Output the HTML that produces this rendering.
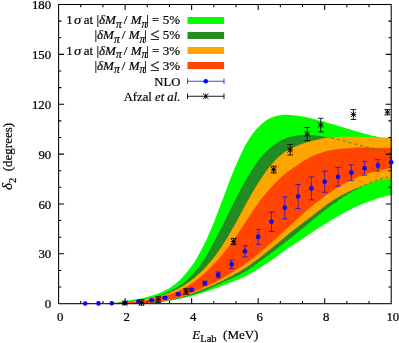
<!DOCTYPE html>
<html><head><meta charset="utf-8"><style>
html,body{margin:0;padding:0;background:#fff;overflow:hidden}
body{width:399px;height:343px;position:relative;overflow:hidden;font-family:"Liberation Serif",serif;}
.t{-webkit-text-stroke:0.2px #000;position:absolute;white-space:nowrap;font-family:"Liberation Serif",serif;font-size:13px;color:#000;line-height:1;}
.t i{font-style:italic}
.t sub{font-size:9.5px;vertical-align:baseline;position:relative;top:3px;line-height:0}
#w{position:absolute;left:0;top:0;width:399px;height:343px;will-change:transform;background:#fff;overflow:hidden}
.lg{right:219px;text-align:right}
.sg{display:inline-block;margin-left:1.5px;transform:translateX(0px) scaleX(1.12);transform-origin:left center}
.pi{font-size:11.5px !important;top:3.6px !important;margin-right:-1.1px}
.le{font-size:17px;line-height:0;position:relative;top:1px}
.ax sub{font-size:10.5px;top:3.6px}
.dl{font-size:15px;line-height:0}
</style></head><body>
<div id="w">
<svg width="399" height="343" viewBox="0 0 399 343" style="position:absolute;left:0;top:0">
<defs><clipPath id="c"><rect x="58.6" y="4.5" width="334.1" height="299.2"/></clipPath></defs>
<g clip-path="url(#c)">
<g>
<path d="M112.0,303.7L113.5,303.6L115.0,303.1L116.5,302.7L118.0,302.4L119.5,302.1L121.0,301.7L122.5,301.5L124.0,301.2L125.5,300.9L127.0,300.7L128.5,300.5L130.0,300.2L131.5,300.0L133.0,299.8L134.5,299.6L136.0,299.4L137.5,299.2L139.0,298.9L140.5,298.7L142.0,298.3L143.5,298.0L145.0,297.6L146.5,297.2L148.0,296.8L149.5,296.3L151.0,295.9L152.5,295.5L154.0,295.0L155.5,294.5L157.0,294.0L158.5,293.4L160.0,292.8L161.5,292.2L163.0,291.5L164.5,290.8L166.0,290.1L167.5,289.3L169.0,288.4L170.5,287.4L172.0,286.4L173.5,285.3L175.0,284.2L176.5,283.0L178.0,281.6L179.5,280.3L181.0,278.8L182.5,277.2L184.0,275.5L185.5,273.8L187.0,272.0L188.5,270.2L190.0,268.3L191.5,266.3L193.0,264.2L194.5,262.0L196.0,259.6L197.5,257.0L199.0,254.3L200.5,251.5L202.0,248.6L203.5,245.7L205.0,242.6L206.5,239.4L208.0,236.2L209.5,232.8L211.0,229.3L212.5,225.7L214.0,221.9L215.5,218.1L217.0,214.3L218.5,210.3L220.0,206.3L221.5,202.4L223.0,198.4L224.5,194.4L226.0,190.4L227.5,186.5L229.0,182.5L230.5,178.6L232.0,174.7L233.5,171.0L235.0,167.4L236.5,163.9L238.0,160.5L239.5,157.2L241.0,154.0L242.5,150.9L244.0,147.9L245.5,145.1L247.0,142.5L248.5,140.0L250.0,137.6L251.5,135.4L253.0,133.3L254.5,131.4L256.0,129.6L257.5,128.0L259.0,126.4L260.5,125.1L262.0,123.8L263.5,122.5L265.0,121.3L266.5,120.2L268.0,119.3L269.5,118.5L271.0,117.8L272.5,117.2L274.0,116.7L275.5,116.2L277.0,115.8L278.5,115.4L280.0,115.2L281.5,114.9L283.0,114.8L284.5,114.8L286.0,114.8L287.5,114.8L289.0,114.9L290.5,115.0L292.0,115.2L293.5,115.3L295.0,115.4L296.5,115.6L298.0,115.8L299.5,116.0L301.0,116.3L302.5,116.5L304.0,116.8L305.5,117.1L307.0,117.5L308.5,117.8L310.0,118.1L311.5,118.5L313.0,118.9L314.5,119.2L316.0,119.6L317.5,120.0L319.0,120.4L320.5,120.8L322.0,121.2L323.5,121.6L325.0,122.0L326.5,122.5L328.0,122.9L329.5,123.3L331.0,123.7L332.5,124.2L334.0,124.6L335.5,125.0L337.0,125.5L338.5,125.9L340.0,126.4L341.5,126.8L343.0,127.3L344.5,127.7L346.0,128.2L347.5,128.7L349.0,129.1L350.5,129.6L352.0,130.0L353.5,130.5L355.0,130.9L356.5,131.4L358.0,131.8L359.5,132.2L361.0,132.7L362.5,133.1L364.0,133.5L365.5,133.9L367.0,134.3L368.5,134.7L370.0,135.1L371.5,135.5L373.0,135.9L374.5,136.3L376.0,136.7L377.5,137.0L379.0,137.4L380.5,137.7L382.0,138.0L383.5,138.3L385.0,138.7L386.5,138.9L388.0,139.2L389.5,139.5L391.5,139.8L391.5,195.2L389.5,195.5L388.0,195.7L386.5,196.0L385.0,196.4L383.5,196.8L382.0,197.2L380.5,197.6L379.0,198.1L377.5,198.5L376.0,199.0L374.5,199.5L373.0,200.0L371.5,200.5L370.0,201.0L368.5,201.6L367.0,202.2L365.5,202.7L364.0,203.3L362.5,203.9L361.0,204.6L359.5,205.2L358.0,205.9L356.5,206.5L355.0,207.2L353.5,208.0L352.0,208.7L350.5,209.4L349.0,210.2L347.5,211.0L346.0,211.8L344.5,212.6L343.0,213.4L341.5,214.3L340.0,215.1L338.5,216.0L337.0,216.8L335.5,217.7L334.0,218.6L332.5,219.5L331.0,220.4L329.5,221.3L328.0,222.2L326.5,223.1L325.0,224.1L323.5,225.0L322.0,225.9L320.5,226.9L319.0,227.8L317.5,228.8L316.0,229.8L314.5,230.7L313.0,231.7L311.5,232.7L310.0,233.7L308.5,234.7L307.0,235.7L305.5,236.8L304.0,237.8L302.5,238.8L301.0,239.8L299.5,240.8L298.0,241.8L296.5,242.7L295.0,243.7L293.5,244.7L292.0,245.6L290.5,246.6L289.0,247.6L287.5,248.6L286.0,249.7L284.5,250.7L283.0,251.8L281.5,252.9L280.0,254.0L278.5,255.1L277.0,256.2L275.5,257.3L274.0,258.4L272.5,259.4L271.0,260.5L269.5,261.5L268.0,262.6L266.5,263.6L265.0,264.6L263.5,265.6L262.0,266.6L260.5,267.5L259.0,268.5L257.5,269.4L256.0,270.3L254.5,271.2L253.0,272.1L251.5,273.0L250.0,273.8L248.5,274.6L247.0,275.4L245.5,276.2L244.0,276.9L242.5,277.6L241.0,278.3L239.5,278.9L238.0,279.6L236.5,280.2L235.0,280.8L233.5,281.4L232.0,282.0L230.5,282.5L229.0,283.1L227.5,283.7L226.0,284.3L224.5,284.8L223.0,285.4L221.5,286.0L220.0,286.6L218.5,287.2L217.0,287.8L215.5,288.3L214.0,288.9L212.5,289.4L211.0,290.0L209.5,290.5L208.0,291.0L206.5,291.5L205.0,292.0L203.5,292.5L202.0,293.0L200.5,293.4L199.0,293.9L197.5,294.3L196.0,294.8L194.5,295.2L193.0,295.6L191.5,296.0L190.0,296.4L188.5,296.8L187.0,297.1L185.5,297.5L184.0,297.8L182.5,298.2L181.0,298.5L179.5,298.8L178.0,299.1L176.5,299.4L175.0,299.7L173.5,300.0L172.0,300.2L170.5,300.5L169.0,300.7L167.5,300.9L166.0,301.2L164.5,301.4L163.0,301.6L161.5,301.8L160.0,302.0L158.5,302.1L157.0,302.3L155.5,302.5L154.0,302.6L152.5,302.8L151.0,302.9L149.5,303.0L148.0,303.1L146.5,303.2L145.0,303.3L143.5,303.4L142.0,303.5L140.5,303.5L139.0,303.6L137.5,303.6L136.0,303.6L134.5,303.7L133.0,303.7L131.5,303.7L130.0,303.7L128.5,303.7L127.0,303.7L125.5,303.7L124.0,303.6L122.5,303.6L121.0,303.5L119.5,303.5L118.0,303.4L116.5,303.4L115.0,303.3L113.5,303.3L112.0,303.2Z" fill="#00ff00"/>
<path d="M112.0,303.7L113.5,303.5L115.0,303.3L116.5,303.0L118.0,302.8L119.5,302.5L121.0,302.3L122.5,302.1L124.0,301.9L125.5,301.7L127.0,301.6L128.5,301.4L130.0,301.2L131.5,301.0L133.0,300.8L134.5,300.6L136.0,300.5L137.5,300.3L139.0,300.0L140.5,299.8L142.0,299.6L143.5,299.4L145.0,299.1L146.5,298.8L148.0,298.5L149.5,298.2L151.0,297.9L152.5,297.5L154.0,297.2L155.5,296.7L157.0,296.3L158.5,295.8L160.0,295.3L161.5,294.8L163.0,294.2L164.5,293.6L166.0,293.0L167.5,292.3L169.0,291.5L170.5,290.8L172.0,290.0L173.5,289.1L175.0,288.2L176.5,287.4L178.0,286.5L179.5,285.6L181.0,284.7L182.5,283.7L184.0,282.6L185.5,281.4L187.0,280.1L188.5,278.6L190.0,277.1L191.5,275.6L193.0,273.9L194.5,272.2L196.0,270.5L197.5,268.6L199.0,266.7L200.5,264.7L202.0,262.6L203.5,260.4L205.0,258.2L206.5,255.7L208.0,253.1L209.5,250.4L211.0,247.6L212.5,244.8L214.0,241.9L215.5,239.0L217.0,236.2L218.5,233.3L220.0,230.4L221.5,227.4L223.0,224.4L224.5,221.4L226.0,218.4L227.5,215.4L229.0,212.4L230.5,209.3L232.0,206.3L233.5,203.3L235.0,200.4L236.5,197.4L238.0,194.5L239.5,191.6L241.0,188.8L242.5,186.0L244.0,183.3L245.5,180.6L247.0,178.0L248.5,175.4L250.0,172.9L251.5,170.5L253.0,168.2L254.5,166.0L256.0,163.8L257.5,161.7L259.0,159.7L260.5,157.8L262.0,156.1L263.5,154.4L265.0,152.8L266.5,151.3L268.0,149.9L269.5,148.6L271.0,147.3L272.5,146.1L274.0,144.9L275.5,143.9L277.0,142.9L278.5,142.0L280.0,141.1L281.5,140.3L283.0,139.6L284.5,138.9L286.0,138.3L287.5,137.8L289.0,137.3L290.5,136.8L292.0,136.5L293.5,136.1L295.0,135.8L296.5,135.6L298.0,135.3L299.5,135.2L301.0,135.0L302.5,134.9L304.0,134.9L305.5,134.8L307.0,134.9L308.5,134.9L310.0,135.0L311.5,135.1L313.0,135.2L314.5,135.3L316.0,135.5L317.5,135.7L319.0,135.8L320.5,136.1L322.0,136.3L323.5,136.5L325.0,136.8L326.5,137.1L328.0,137.3L329.5,137.6L331.0,137.9L332.5,138.3L334.0,138.6L335.5,138.9L337.0,139.3L338.5,139.7L340.0,140.0L341.5,140.4L343.0,140.8L344.5,141.2L346.0,141.6L347.5,142.0L349.0,142.4L350.5,142.8L352.0,143.2L353.5,143.6L355.0,144.0L356.5,144.4L358.0,144.9L359.5,145.3L361.0,145.7L362.5,146.1L364.0,146.5L365.5,146.9L367.0,147.3L368.5,147.7L370.0,148.1L371.5,148.5L373.0,148.9L374.5,149.3L376.0,149.6L377.5,150.0L379.0,150.3L380.5,150.7L382.0,151.0L383.5,151.3L385.0,151.6L386.5,151.9L388.0,152.2L389.5,152.5L391.5,152.8L391.5,176.8L389.5,177.0L388.0,177.2L386.5,177.5L385.0,177.9L383.5,178.3L382.0,178.7L380.5,179.1L379.0,179.6L377.5,180.1L376.0,180.6L374.5,181.2L373.0,181.7L371.5,182.3L370.0,182.9L368.5,183.6L367.0,184.2L365.5,184.9L364.0,185.6L362.5,186.3L361.0,187.0L359.5,187.7L358.0,188.5L356.5,189.2L355.0,190.0L353.5,190.8L352.0,191.6L350.5,192.5L349.0,193.4L347.5,194.3L346.0,195.2L344.5,196.1L343.0,197.1L341.5,198.1L340.0,199.1L338.5,200.1L337.0,201.2L335.5,202.3L334.0,203.4L332.5,204.5L331.0,205.6L329.5,206.8L328.0,207.9L326.5,209.1L325.0,210.2L323.5,211.4L322.0,212.6L320.5,213.8L319.0,215.0L317.5,216.2L316.0,217.4L314.5,218.6L313.0,219.8L311.5,221.0L310.0,222.3L308.5,223.5L307.0,224.7L305.5,226.0L304.0,227.2L302.5,228.4L301.0,229.6L299.5,230.9L298.0,232.1L296.5,233.3L295.0,234.5L293.5,235.7L292.0,236.9L290.5,238.1L289.0,239.3L287.5,240.5L286.0,241.6L284.5,242.8L283.0,244.0L281.5,245.2L280.0,246.3L278.5,247.5L277.0,248.7L275.5,249.8L274.0,251.0L272.5,252.1L271.0,253.2L269.5,254.4L268.0,255.5L266.5,256.6L265.0,257.7L263.5,258.8L262.0,259.9L260.5,261.0L259.0,262.1L257.5,263.2L256.0,264.3L254.5,265.3L253.0,266.4L251.5,267.4L250.0,268.4L248.5,269.4L247.0,270.4L245.5,271.3L244.0,272.2L242.5,273.1L241.0,273.9L239.5,274.7L238.0,275.4L236.5,276.2L235.0,276.9L233.5,277.5L232.0,278.2L230.5,278.9L229.0,279.6L227.5,280.2L226.0,280.9L224.5,281.6L223.0,282.3L221.5,283.0L220.0,283.7L218.5,284.4L217.0,285.1L215.5,285.8L214.0,286.5L212.5,287.1L211.0,287.8L209.5,288.4L208.0,289.0L206.5,289.7L205.0,290.2L203.5,290.8L202.0,291.4L200.5,292.0L199.0,292.5L197.5,293.0L196.0,293.5L194.5,294.0L193.0,294.5L191.5,295.0L190.0,295.5L188.5,295.9L187.0,296.3L185.5,296.8L184.0,297.2L182.5,297.6L181.0,297.9L179.5,298.3L178.0,298.7L176.5,299.0L175.0,299.3L173.5,299.6L172.0,299.9L170.5,300.2L169.0,300.5L167.5,300.8L166.0,301.0L164.5,301.3L163.0,301.5L161.5,301.7L160.0,301.9L158.5,302.1L157.0,302.3L155.5,302.5L154.0,302.6L152.5,302.8L151.0,302.9L149.5,303.0L148.0,303.1L146.5,303.2L145.0,303.3L143.5,303.4L142.0,303.5L140.5,303.5L139.0,303.6L137.5,303.6L136.0,303.6L134.5,303.6L133.0,303.6L131.5,303.6L130.0,303.6L128.5,303.5L127.0,303.5L125.5,303.4L124.0,303.4L122.5,303.3L121.0,303.2L119.5,303.1L118.0,303.0L116.5,302.9L115.0,302.8L113.5,302.8L112.0,302.7Z" fill="#228b22"/>
<path d="M112.0,303.7L113.5,303.7L115.0,303.5L116.5,303.3L118.0,303.1L119.5,302.9L121.0,302.7L122.5,302.5L124.0,302.3L125.5,302.1L127.0,301.9L128.5,301.8L130.0,301.6L131.5,301.4L133.0,301.2L134.5,301.0L136.0,300.8L137.5,300.6L139.0,300.4L140.5,300.1L142.0,299.9L143.5,299.7L145.0,299.4L146.5,299.1L148.0,298.8L149.5,298.5L151.0,298.2L152.5,297.9L154.0,297.6L155.5,297.2L157.0,296.8L158.5,296.4L160.0,296.0L161.5,295.5L163.0,295.0L164.5,294.5L166.0,294.0L167.5,293.4L169.0,292.9L170.5,292.3L172.0,291.6L173.5,290.9L175.0,290.2L176.5,289.5L178.0,288.7L179.5,287.9L181.0,287.1L182.5,286.2L184.0,285.3L185.5,284.3L187.0,283.3L188.5,282.3L190.0,281.2L191.5,280.1L193.0,278.9L194.5,277.7L196.0,276.4L197.5,275.1L199.0,273.8L200.5,272.4L202.0,270.9L203.5,269.4L205.0,267.8L206.5,266.2L208.0,264.5L209.5,262.8L211.0,261.0L212.5,259.2L214.0,257.3L215.5,255.3L217.0,253.3L218.5,251.2L220.0,249.1L221.5,246.9L223.0,244.6L224.5,242.2L226.0,239.8L227.5,237.4L229.0,234.8L230.5,232.2L232.0,229.6L233.5,226.9L235.0,224.2L236.5,221.4L238.0,218.7L239.5,215.9L241.0,213.1L242.5,210.4L244.0,207.6L245.5,204.8L247.0,202.1L248.5,199.4L250.0,196.8L251.5,194.1L253.0,191.6L254.5,189.0L256.0,186.6L257.5,184.1L259.0,181.7L260.5,179.4L262.0,177.2L263.5,175.0L265.0,172.8L266.5,170.8L268.0,168.8L269.5,166.9L271.0,165.0L272.5,163.3L274.0,161.6L275.5,160.0L277.0,158.5L278.5,157.1L280.0,155.8L281.5,154.6L283.0,153.4L284.5,152.3L286.0,151.3L287.5,150.4L289.0,149.5L290.5,148.7L292.0,148.0L293.5,147.3L295.0,146.6L296.5,146.0L298.0,145.4L299.5,144.8L301.0,144.2L302.5,143.7L304.0,143.2L305.5,142.7L307.0,142.3L308.5,141.9L310.0,141.4L311.5,141.0L313.0,140.6L314.5,140.2L316.0,139.9L317.5,139.5L319.0,139.2L320.5,138.9L322.0,138.6L323.5,138.3L325.0,138.1L326.5,137.8L328.0,137.7L329.5,137.5L331.0,137.4L332.5,137.3L334.0,137.1L335.5,137.0L337.0,137.0L338.5,136.9L340.0,136.8L341.5,136.8L343.0,136.7L344.5,136.7L346.0,136.7L347.5,136.7L349.0,136.7L350.5,136.7L352.0,136.7L353.5,136.7L355.0,136.8L356.5,136.8L358.0,136.8L359.5,136.9L361.0,136.9L362.5,136.9L364.0,137.0L365.5,137.0L367.0,137.1L368.5,137.1L370.0,137.2L371.5,137.2L373.0,137.3L374.5,137.3L376.0,137.4L377.5,137.4L379.0,137.4L380.5,137.5L382.0,137.5L383.5,137.5L385.0,137.5L386.5,137.5L388.0,137.5L389.5,137.5L391.5,137.5L391.5,178.4L389.5,178.5L388.0,178.7L386.5,179.0L385.0,179.2L383.5,179.5L382.0,179.8L380.5,180.2L379.0,180.6L377.5,181.0L376.0,181.4L374.5,181.8L373.0,182.3L371.5,182.8L370.0,183.2L368.5,183.8L367.0,184.3L365.5,184.8L364.0,185.4L362.5,186.0L361.0,186.6L359.5,187.1L358.0,187.7L356.5,188.3L355.0,188.9L353.5,189.6L352.0,190.2L350.5,190.9L349.0,191.5L347.5,192.2L346.0,193.0L344.5,193.7L343.0,194.5L341.5,195.3L340.0,196.1L338.5,197.0L337.0,197.9L335.5,198.8L334.0,199.7L332.5,200.7L331.0,201.7L329.5,202.7L328.0,203.8L326.5,204.8L325.0,205.9L323.5,207.0L322.0,208.2L320.5,209.4L319.0,210.5L317.5,211.7L316.0,212.9L314.5,214.1L313.0,215.2L311.5,216.4L310.0,217.5L308.5,218.7L307.0,219.8L305.5,221.0L304.0,222.1L302.5,223.2L301.0,224.4L299.5,225.5L298.0,226.7L296.5,227.8L295.0,229.0L293.5,230.1L292.0,231.3L290.5,232.5L289.0,233.7L287.5,235.0L286.0,236.2L284.5,237.5L283.0,238.7L281.5,240.0L280.0,241.3L278.5,242.5L277.0,243.8L275.5,245.0L274.0,246.3L272.5,247.5L271.0,248.7L269.5,249.9L268.0,251.1L266.5,252.3L265.0,253.5L263.5,254.7L262.0,255.9L260.5,257.0L259.0,258.2L257.5,259.3L256.0,260.4L254.5,261.5L253.0,262.6L251.5,263.7L250.0,264.8L248.5,265.9L247.0,266.9L245.5,267.9L244.0,268.9L242.5,269.8L241.0,270.7L239.5,271.6L238.0,272.4L236.5,273.3L235.0,274.1L233.5,274.9L232.0,275.7L230.5,276.5L229.0,277.3L227.5,278.0L226.0,278.8L224.5,279.6L223.0,280.4L221.5,281.1L220.0,281.9L218.5,282.6L217.0,283.3L215.5,284.0L214.0,284.7L212.5,285.4L211.0,286.1L209.5,286.7L208.0,287.3L206.5,287.9L205.0,288.5L203.5,289.1L202.0,289.7L200.5,290.3L199.0,290.9L197.5,291.5L196.0,292.1L194.5,292.7L193.0,293.2L191.5,293.8L190.0,294.3L188.5,294.9L187.0,295.4L185.5,295.8L184.0,296.3L182.5,296.7L181.0,297.2L179.5,297.5L178.0,297.9L176.5,298.3L175.0,298.7L173.5,299.0L172.0,299.3L170.5,299.7L169.0,300.0L167.5,300.2L166.0,300.5L164.5,300.8L163.0,301.0L161.5,301.3L160.0,301.5L158.5,301.7L157.0,301.9L155.5,302.1L154.0,302.3L152.5,302.5L151.0,302.6L149.5,302.8L148.0,302.9L146.5,303.0L145.0,303.1L143.5,303.2L142.0,303.3L140.5,303.4L139.0,303.4L137.5,303.5L136.0,303.5L134.5,303.5L133.0,303.6L131.5,303.6L130.0,303.6L128.5,303.5L127.0,303.5L125.5,303.5L124.0,303.4L122.5,303.4L121.0,303.3L119.5,303.2L118.0,303.1L116.5,303.1L115.0,303.0L113.5,302.9L112.0,302.9Z" fill="#ffa500"/>
<path d="M112.0,303.2L113.5,303.2L115.0,303.1L116.5,303.0L118.0,303.0L119.5,302.9L121.0,302.8L122.5,302.8L124.0,302.7L125.5,302.6L127.0,302.5L128.5,302.4L130.0,302.3L131.5,302.1L133.0,302.0L134.5,301.9L136.0,301.7L137.5,301.5L139.0,301.4L140.5,301.2L142.0,301.0L143.5,300.7L145.0,300.5L146.5,300.2L148.0,300.0L149.5,299.7L151.0,299.4L152.5,299.0L154.0,298.7L155.5,298.3L157.0,297.9L158.5,297.5L160.0,297.1L161.5,296.7L163.0,296.3L164.5,295.9L166.0,295.4L167.5,295.0L169.0,294.5L170.5,293.9L172.0,293.4L173.5,292.9L175.0,292.3L176.5,291.7L178.0,291.0L179.5,290.3L181.0,289.6L182.5,288.9L184.0,288.1L185.5,287.3L187.0,286.4L188.5,285.5L190.0,284.5L191.5,283.5L193.0,282.5L194.5,281.4L196.0,280.3L197.5,279.2L199.0,278.0L200.5,276.8L202.0,275.5L203.5,274.2L205.0,272.9L206.5,271.5L208.0,270.1L209.5,268.6L211.0,267.1L212.5,265.5L214.0,264.0L215.5,262.4L217.0,260.8L218.5,259.1L220.0,257.4L221.5,255.6L223.0,253.7L224.5,251.8L226.0,249.9L227.5,248.0L229.0,246.0L230.5,244.1L232.0,242.1L233.5,240.1L235.0,238.1L236.5,235.7L238.0,233.4L239.5,231.0L241.0,228.7L242.5,226.4L244.0,224.2L245.5,221.9L247.0,219.7L248.5,217.4L250.0,215.2L251.5,212.9L253.0,210.7L254.5,208.5L256.0,206.3L257.5,204.2L259.0,202.0L260.5,200.0L262.0,198.1L263.5,196.3L265.0,194.5L266.5,192.7L268.0,191.0L269.5,189.3L271.0,187.6L272.5,186.0L274.0,184.3L275.5,182.8L277.0,181.2L278.5,179.7L280.0,178.2L281.5,176.8L283.0,175.5L284.5,174.2L286.0,173.0L287.5,171.9L289.0,170.8L290.5,169.7L292.0,168.8L293.5,167.8L295.0,166.9L296.5,165.8L298.0,164.7L299.5,163.7L301.0,162.7L302.5,161.7L304.0,160.8L305.5,159.9L307.0,159.0L308.5,158.2L310.0,157.4L311.5,156.6L313.0,155.9L314.5,155.3L316.0,154.6L317.5,154.0L319.0,153.5L320.5,153.0L322.0,152.5L323.5,152.0L325.0,151.6L326.5,151.2L328.0,150.8L329.5,150.5L331.0,150.2L332.5,149.9L334.0,149.7L335.5,149.5L337.0,149.3L338.5,149.1L340.0,148.9L341.5,148.8L343.0,148.7L344.5,148.6L346.0,148.5L347.5,148.3L349.0,148.2L350.5,148.0L352.0,147.9L353.5,147.8L355.0,147.7L356.5,147.6L358.0,147.6L359.5,147.5L361.0,147.5L362.5,147.5L364.0,147.6L365.5,147.6L367.0,147.6L368.5,147.7L370.0,147.7L371.5,147.8L373.0,147.8L374.5,147.9L376.0,147.9L377.5,147.9L379.0,147.9L380.5,148.0L382.0,148.0L383.5,148.0L385.0,148.0L386.5,147.9L388.0,147.9L389.5,147.8L391.5,147.7L391.5,168.2L389.5,168.3L388.0,168.5L386.5,168.8L385.0,169.0L383.5,169.3L382.0,169.7L380.5,170.0L379.0,170.3L377.5,170.7L376.0,171.1L374.5,171.5L373.0,171.9L371.5,172.4L370.0,172.8L368.5,173.3L367.0,173.8L365.5,174.3L364.0,174.8L362.5,175.4L361.0,175.9L359.5,176.5L358.0,177.1L356.5,177.8L355.0,178.4L353.5,179.1L352.0,179.7L350.5,180.4L349.0,181.2L347.5,181.9L346.0,182.7L344.5,183.5L343.0,184.3L341.5,185.2L340.0,186.0L338.5,187.0L337.0,187.9L335.5,188.8L334.0,189.8L332.5,190.8L331.0,191.9L329.5,192.9L328.0,193.9L326.5,195.0L325.0,196.1L323.5,197.2L322.0,198.3L320.5,199.4L319.0,200.5L317.5,201.7L316.0,202.8L314.5,204.0L313.0,205.3L311.5,206.5L310.0,207.8L308.5,209.0L307.0,210.3L305.5,211.6L304.0,213.0L302.5,214.3L301.0,215.6L299.5,217.0L298.0,218.4L296.5,219.7L295.0,221.1L293.5,222.5L292.0,223.8L290.5,225.2L289.0,226.6L287.5,228.0L286.0,229.3L284.5,230.7L283.0,232.0L281.5,233.4L280.0,234.7L278.5,236.1L277.0,237.5L275.5,238.9L274.0,240.2L272.5,241.6L271.0,242.9L269.5,244.3L268.0,245.6L266.5,246.9L265.0,248.2L263.5,249.5L262.0,250.8L260.5,252.0L259.0,253.3L257.5,254.5L256.0,255.7L254.5,256.9L253.0,258.1L251.5,259.2L250.0,260.4L248.5,261.5L247.0,262.6L245.5,263.6L244.0,264.7L242.5,265.7L241.0,266.7L239.5,267.6L238.0,268.6L236.5,269.5L235.0,270.5L233.5,271.4L232.0,272.4L230.5,273.3L229.0,274.2L227.5,275.1L226.0,276.0L224.5,276.9L223.0,277.7L221.5,278.6L220.0,279.4L218.5,280.2L217.0,281.0L215.5,281.8L214.0,282.6L212.5,283.4L211.0,284.1L209.5,284.8L208.0,285.6L206.5,286.3L205.0,286.9L203.5,287.6L202.0,288.3L200.5,289.0L199.0,289.6L197.5,290.3L196.0,290.9L194.5,291.6L193.0,292.2L191.5,292.8L190.0,293.4L188.5,294.0L187.0,294.5L185.5,295.1L184.0,295.6L182.5,296.0L181.0,296.5L179.5,296.9L178.0,297.4L176.5,297.8L175.0,298.2L173.5,298.5L172.0,298.9L170.5,299.3L169.0,299.6L167.5,299.9L166.0,300.2L164.5,300.5L163.0,300.8L161.5,301.1L160.0,301.3L158.5,301.6L157.0,301.8L155.5,302.0L154.0,302.2L152.5,302.4L151.0,302.6L149.5,302.7L148.0,302.9L146.5,303.0L145.0,303.1L143.5,303.2L142.0,303.3L140.5,303.4L139.0,303.4L137.5,303.5L136.0,303.5L134.5,303.6L133.0,303.6L131.5,303.6L130.0,303.5L128.5,303.5L127.0,303.5L125.5,303.4L124.0,303.3L122.5,303.3L121.0,303.2L119.5,303.1L118.0,303.0L116.5,302.9L115.0,302.8L113.5,302.7L112.0,302.6Z" fill="#ff4500"/>
</g>
<path d="M331.0,137.9L332.5,138.3L334.0,138.6L335.5,138.9L337.0,139.3L338.5,139.7L340.0,140.0L341.5,140.4L343.0,140.8L344.5,141.2L346.0,141.6L347.5,142.0L349.0,142.4L350.5,142.8L352.0,143.2L353.5,143.6L355.0,144.0L356.5,144.4L358.0,144.9L359.5,145.3L361.0,145.7L362.5,146.1L364.0,146.5L365.5,146.9L367.0,147.3L368.5,147.7L370.0,148.1L371.5,148.5L373.0,148.9L374.5,149.3L376.0,149.6L377.5,150.0L379.0,150.3L380.5,150.7L382.0,151.0L383.5,151.3L385.0,151.6L386.5,151.9L388.0,152.2L389.5,152.5L391.5,152.8" fill="none" stroke="#228b22" stroke-width="1" stroke-dasharray="3,3"/>
<path d="M335.5,202.3L337.0,201.2L338.5,200.1L340.0,199.1L341.5,198.1L343.0,197.1L344.5,196.1L346.0,195.2L347.5,194.3L349.0,193.4L350.5,192.5L352.0,191.6L353.5,190.8L355.0,190.0L356.5,189.2L358.0,188.5L359.5,187.7L361.0,187.0L362.5,186.3L364.0,185.6L365.5,184.9L367.0,184.2L368.5,183.6L370.0,182.9L371.5,182.3L373.0,181.7L374.5,181.2L376.0,180.6L377.5,180.1L379.0,179.6L380.5,179.1L382.0,178.7L383.5,178.3L385.0,177.9L386.5,177.5L388.0,177.2L389.5,177.0L391.5,176.8" fill="none" stroke="#228b22" stroke-width="1" stroke-dasharray="2.8,2.8"/>
<path d="M374.5,136.3L376.0,136.7L377.5,137.0L379.0,137.4L380.5,137.7L382.0,138.0L383.5,138.3L385.0,138.7L386.5,138.9L388.0,139.2L389.5,139.5L391.5,139.8" fill="none" stroke="#00ff00" stroke-width="0.8" stroke-dasharray="1.5,2.5"/>
</g>
<g stroke="#000" stroke-width="1.05" fill="none">
<rect x="58.6" y="4.5" width="332.6" height="299.2"/>
<path d="M80.77,303.7v-2.8M80.77,4.5v2.8M102.95,303.7v-2.8M102.95,4.5v2.8M125.12,303.7v-5.5M125.12,4.5v5.5M147.29,303.7v-2.8M147.29,4.5v2.8M169.47,303.7v-2.8M169.47,4.5v2.8M191.64,303.7v-5.5M191.64,4.5v5.5M213.81,303.7v-2.8M213.81,4.5v2.8M235.99,303.7v-2.8M235.99,4.5v2.8M258.16,303.7v-5.5M258.16,4.5v5.5M280.33,303.7v-2.8M280.33,4.5v2.8M302.51,303.7v-2.8M302.51,4.5v2.8M324.68,303.7v-5.5M324.68,4.5v5.5M346.85,303.7v-2.8M346.85,4.5v2.8M369.03,303.7v-2.8M369.03,4.5v2.8M58.6,287.08h2.8M391.2,287.08h-2.8M58.6,270.46h2.8M391.2,270.46h-2.8M58.6,253.83h5.5M391.2,253.83h-5.5M58.6,237.21h2.8M391.2,237.21h-2.8M58.6,220.59h2.8M391.2,220.59h-2.8M58.6,203.97h5.5M391.2,203.97h-5.5M58.6,187.34h2.8M391.2,187.34h-2.8M58.6,170.72h2.8M391.2,170.72h-2.8M58.6,154.10h5.5M391.2,154.10h-5.5M58.6,137.48h2.8M391.2,137.48h-2.8M58.6,120.86h2.8M391.2,120.86h-2.8M58.6,104.23h5.5M391.2,104.23h-5.5M58.6,87.61h2.8M391.2,87.61h-2.8M58.6,70.99h2.8M391.2,70.99h-2.8M58.6,54.37h5.5M391.2,54.37h-5.5M58.6,37.74h2.8M391.2,37.74h-2.8M58.6,21.12h2.8M391.2,21.12h-2.8"/>
</g>
<defs><clipPath id="c2"><rect x="0" y="0" width="391.2" height="343"/></clipPath></defs>
<g stroke="#0000ff" stroke-width="0.65" fill="none" clip-path="url(#c2)">
<path d="M151.7,299.7V300.7M148.9,299.7h5.6M148.9,300.7h5.6M165.0,296.9V298.5M162.2,296.9h5.6M162.2,298.5h5.6M178.3,293.2V295.2M175.5,293.2h5.6M175.5,295.2h5.6M191.6,288.3V291.3M188.8,288.3h5.6M188.8,291.3h5.6M204.9,281.2V285.2M202.1,281.2h5.6M202.1,285.2h5.6M218.2,272.0V277.8M215.4,272.0h5.6M215.4,277.8h5.6M231.6,260.2V268.6M228.8,260.2h5.6M228.8,268.6h5.6M244.9,245.8V256.8M242.1,245.8h5.6M242.1,256.8h5.6M258.2,229.4V244.4M255.4,229.4h5.6M255.4,244.4h5.6M271.5,212.2V231.4M268.7,212.2h5.6M268.7,231.4h5.6M284.8,196.8V218.8M282.0,196.8h5.6M282.0,218.8h5.6M298.1,184.5V208.5M295.3,184.5h5.6M295.3,208.5h5.6M311.4,176.9V199.9M308.6,176.9h5.6M308.6,199.9h5.6M324.7,171.1V192.3M321.9,171.1h5.6M321.9,192.3h5.6M338.0,167.4V186.2M335.2,167.4h5.6M335.2,186.2h5.6M351.3,164.7V180.5M348.5,164.7h5.6M348.5,180.5h5.6M364.6,161.4V175.2M361.8,161.4h5.6M361.8,175.2h5.6M377.9,159.6V171.2M375.1,159.6h5.6M375.1,171.2h5.6M391.2,157.3V167.3M388.4,157.3h5.6M388.4,167.3h5.6"/>
</g>
<circle cx="85.2" cy="303.5" r="2.3" fill="#0000ff"/>
<circle cx="98.5" cy="303.4" r="2.3" fill="#0000ff"/>
<circle cx="111.8" cy="303.2" r="2.3" fill="#0000ff"/>
<circle cx="125.1" cy="302.8" r="2.3" fill="#0000ff"/>
<circle cx="138.4" cy="301.6" r="2.3" fill="#0000ff"/>
<circle cx="151.7" cy="300.2" r="2.3" fill="#0000ff"/>
<circle cx="165.0" cy="297.7" r="2.3" fill="#0000ff"/>
<circle cx="178.3" cy="294.2" r="2.3" fill="#0000ff"/>
<circle cx="191.6" cy="289.8" r="2.3" fill="#0000ff"/>
<circle cx="204.9" cy="283.2" r="2.3" fill="#0000ff"/>
<circle cx="218.2" cy="274.9" r="2.3" fill="#0000ff"/>
<circle cx="231.6" cy="264.4" r="2.3" fill="#0000ff"/>
<circle cx="244.9" cy="251.3" r="2.3" fill="#0000ff"/>
<circle cx="258.2" cy="236.9" r="2.3" fill="#0000ff"/>
<circle cx="271.5" cy="221.8" r="2.3" fill="#0000ff"/>
<circle cx="284.8" cy="207.8" r="2.3" fill="#0000ff"/>
<circle cx="298.1" cy="196.5" r="2.3" fill="#0000ff"/>
<circle cx="311.4" cy="188.4" r="2.3" fill="#0000ff"/>
<circle cx="324.7" cy="181.7" r="2.3" fill="#0000ff"/>
<circle cx="338.0" cy="176.8" r="2.3" fill="#0000ff"/>
<circle cx="351.3" cy="172.6" r="2.3" fill="#0000ff"/>
<circle cx="364.6" cy="168.3" r="2.3" fill="#0000ff"/>
<circle cx="377.9" cy="165.4" r="2.3" fill="#0000ff"/>
<circle cx="391.2" cy="162.3" r="2.3" fill="#0000ff"/>
<g stroke="#000" stroke-width="0.85" fill="none">
<path d="M124.9,302.2V304.2M122.1,302.2h5.6M122.1,304.2h5.6M122.2,303.2h5.4M124.9,300.5v5.4M122.2,300.5l5.4,5.4M122.2,305.9l5.4,-5.4M141.5,299.8V305.2M138.7,299.8h5.6M138.7,305.2h5.6M138.8,302.5h5.4M141.5,299.8v5.4M138.8,299.8l5.4,5.4M138.8,305.2l5.4,-5.4M158.2,296.7V302.5M155.4,296.7h5.6M155.4,302.5h5.6M155.5,299.6h5.4M158.2,296.9v5.4M155.5,296.9l5.4,5.4M155.5,302.3l5.4,-5.4M186.1,288.8V294.2M183.3,288.8h5.6M183.3,294.2h5.6M183.4,291.5h5.4M186.1,288.8v5.4M183.4,288.8l5.4,5.4M183.4,294.2l5.4,-5.4M233.6,238.4V244.6M230.8,238.4h5.6M230.8,244.6h5.6M230.9,241.5h5.4M233.6,238.8v5.4M230.9,238.8l5.4,5.4M230.9,244.2l5.4,-5.4M273.7,166.2V173.0M270.9,166.2h5.6M270.9,173.0h5.6M271.0,169.6h5.4M273.7,166.9v5.4M271.0,166.9l5.4,5.4M271.0,172.3l5.4,-5.4M290.2,144.6V155.0M287.4,144.6h5.6M287.4,155.0h5.6M287.5,149.8h5.4M290.2,147.1v5.4M287.5,147.1l5.4,5.4M287.5,152.5l5.4,-5.4M307.2,127.5V140.7M304.4,127.5h5.6M304.4,140.7h5.6M304.5,134.1h5.4M307.2,131.4v5.4M304.5,131.4l5.4,5.4M304.5,136.8l5.4,-5.4M320.7,118.3V131.9M317.9,118.3h5.6M317.9,131.9h5.6M318.0,125.1h5.4M320.7,122.4v5.4M318.0,122.4l5.4,5.4M318.0,127.8l5.4,-5.4M353.4,109.5V119.5M350.6,109.5h5.6M350.6,119.5h5.6M350.7,114.5h5.4M353.4,111.8v5.4M350.7,111.8l5.4,5.4M350.7,117.2l5.4,-5.4M387.5,109.5V114.9M384.7,109.5h5.6M384.7,114.9h5.6M384.8,112.2h5.4M387.5,109.5v5.4M384.8,109.5l5.4,5.4M384.8,114.9l5.4,-5.4"/>
</g>
<circle cx="124.9" cy="303.2" r="1.15" fill="#000"/>
<circle cx="141.5" cy="302.5" r="1.15" fill="#000"/>
<circle cx="158.2" cy="299.6" r="1.15" fill="#000"/>
<circle cx="186.1" cy="291.5" r="1.15" fill="#000"/>
<circle cx="233.6" cy="241.5" r="1.15" fill="#000"/>
<circle cx="273.7" cy="169.6" r="1.15" fill="#000"/>
<circle cx="290.2" cy="149.8" r="1.15" fill="#000"/>
<circle cx="307.2" cy="134.1" r="1.15" fill="#000"/>
<circle cx="320.7" cy="125.1" r="1.15" fill="#000"/>
<circle cx="353.4" cy="114.5" r="1.15" fill="#000"/>
<circle cx="387.5" cy="112.2" r="1.15" fill="#000"/>
<rect x="187.5" y="17.00" width="36.6" height="7" fill="#00ff00"/>
<rect x="187.5" y="32.00" width="36.6" height="7" fill="#228b22"/>
<rect x="187.5" y="47.00" width="36.6" height="7" fill="#ffa500"/>
<rect x="187.5" y="62.00" width="36.6" height="7" fill="#ff4500"/>
<path d="M187.5,81.25H224M187.5,78.45v5.6M224,78.45v5.6" stroke="#0000ff" stroke-width="0.75" fill="none"/>
<circle cx="205.75" cy="81.25" r="2.3" fill="#0000ff"/>
<path d="M187.5,96.25H224M187.5,93.45v5.6M224,93.45v5.6M203.1,93.5l5.4,5.4M203.1,99.0l5.4,-5.4M205.8,93.5v5.4" stroke="#000" stroke-width="0.9" fill="none"/>
<circle cx="205.75" cy="96.25" r="1.15" fill="#000"/>
<g font-family="Liberation Serif, serif" font-size="13.5px" fill="#000" stroke="#000" stroke-width="0.25">
<text transform="translate(51.2,308.3) scale(0.95,0.97)" text-anchor="end">0</text>
<text transform="translate(51.2,258.4) scale(0.95,0.97)" text-anchor="end">30</text>
<text transform="translate(51.2,208.6) scale(0.95,0.97)" text-anchor="end">60</text>
<text transform="translate(51.2,158.7) scale(0.95,0.97)" text-anchor="end">90</text>
<text transform="translate(51.2,108.8) scale(0.95,0.97)" text-anchor="end">120</text>
<text transform="translate(51.2,59.0) scale(0.95,0.97)" text-anchor="end">150</text>
<text transform="translate(51.2,9.1) scale(0.95,0.97)" text-anchor="end">180</text>
<text transform="translate(60.2,320.6) scale(0.95,0.97)" text-anchor="middle">0</text>
<text transform="translate(126.7,320.6) scale(0.95,0.97)" text-anchor="middle">2</text>
<text transform="translate(193.2,320.6) scale(0.95,0.97)" text-anchor="middle">4</text>
<text transform="translate(259.8,320.6) scale(0.95,0.97)" text-anchor="middle">6</text>
<text transform="translate(326.3,320.6) scale(0.95,0.97)" text-anchor="middle">8</text>
<text transform="translate(392.8,320.6) scale(0.95,0.97)" text-anchor="middle">10</text>
</g>
</svg>
<div class="t lg" style="top:13.2px">1<i class="sg">σ</i> at |<i>δM</i><sub class="pi"><i>π</i></sub> / <i>M</i><sub class="pi"><i>π</i></sub>| = 5%</div>
<div class="t lg" style="top:28.4px">|<i>δM</i><sub class="pi"><i>π</i></sub> / <i>M</i><sub class="pi"><i>π</i></sub>| <span class="le">≤</span> 5%</div>
<div class="t lg" style="top:43.6px">1<i class="sg">σ</i> at |<i>δM</i><sub class="pi"><i>π</i></sub> / <i>M</i><sub class="pi"><i>π</i></sub>| = 3%</div>
<div class="t lg" style="top:58.8px">|<i>δM</i><sub class="pi"><i>π</i></sub> / <i>M</i><sub class="pi"><i>π</i></sub>| <span class="le">≤</span> 3%</div>
<div class="t lg" style="right:218.6px;top:74.9px"><span style="font-size:12.7px">NLO</span></div>
<div class="t lg" style="right:218.6px;top:90.3px"><span style="font-size:12.7px">Afzal <i>et al.</i></span></div>
<div class="t ax" style="left:192.3px;top:327.5px"><i>E</i><sub>Lab</sub>&nbsp; (MeV)</div>
<svg width="30" height="343" style="position:absolute;left:0;top:0"><text transform="translate(12.2,190) rotate(-90)" font-family="Liberation Serif" font-size="13px" fill="#000" stroke="#000" stroke-width="0.2"><tspan font-style="italic" font-size="15px">δ</tspan><tspan font-size="10.5px" dy="3.6">2</tspan><tspan dy="-3.6" dx="6.5">(degrees)</tspan></text></svg>
</div>
</body></html>
